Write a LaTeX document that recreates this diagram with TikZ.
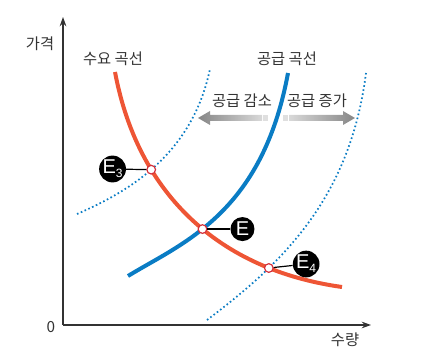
\documentclass[tikz,border=0pt]{standalone}
\usepackage{fontspec}
\setmainfont{Noto Sans CJK KR}
\newfontfamily\eqfont{Liberation Sans}
\usetikzlibrary{arrows.meta,intersections}

\definecolor{demandred}{HTML}{EE5535}
\definecolor{supplyblue}{HTML}{0A7CC4}
\definecolor{txtgray}{HTML}{333333}
\definecolor{markred}{HTML}{D5303A}

\begin{document}
\begin{tikzpicture}[x=0.75pt,y=-0.75pt,
  font=\fontsize{11.5}{13}\selectfont, text=txtgray,
  demand/.style={demandred,line width=3pt},
  supply/.style={supplyblue,line width=3pt},
  shifted/.style={supplyblue,line width=1.3pt,dash pattern=on 1.2pt off 1.9pt},
  eqpt/.style={circle,draw=markred,fill=white,line width=0.9pt,inner sep=0pt,minimum size=6.5pt},
  eqlabel/.style={circle,fill=black,text=white,inner sep=0pt,minimum size=18pt,font=\eqfont\fontsize{15}{15}\selectfont},
  tick/.style={black,line width=0.9pt}]
\useasboundingbox (0,0) rectangle (433,359);
%\draw[help lines] (0,0) grid[step=50] (433,359);
% axes
\draw[-{Stealth[length=7pt,width=5pt]},line width=0.9pt,txtgray] (63,325)--(63,17);
\draw[-{Stealth[length=7pt,width=5pt]},line width=0.9pt,txtgray] (63,325)--(371,325);
\node at (40,44) {가격};
\node at (345,340) {수량};
\node at (51,327) {0};
% shifted supply curves
\draw[shifted,name path=left] (77,214) .. controls (128,192) and (192,155) .. (210,69);
\draw[shifted,name path=right] (207,320) .. controls (280,265) and (350,200) .. (366,73);
% supply and demand
\draw[supply,name path=sup] (128,276) .. controls (182,243) and (262,214) .. (288,73);
\draw[demand,name path=dem] (115,72) .. controls (138,195) and (220,270) .. (342,287);
\node at (113,59) {수요 곡선};
\node at (287,59) {공급 곡선};
% shift arrows
\node at (242,101) {공급 감소};
\node at (317,101) {공급 증가};
\shade[left color=gray!95,right color=gray!30] (198,118)--(210,111)--(210,115)--(262,115)--(262,121)--(210,121)--(210,125)--cycle;
\fill[gray!25] (263,115) rectangle (268,121);
\fill[gray!25] (283,115) rectangle (288,121);
\shade[left color=gray!30,right color=gray!95] (289,115)--(343,115)--(343,111)--(355,118)--(343,125)--(343,121)--(289,121)--cycle;
% equilibrium points
\path[name intersections={of=dem and left,by=x3}];
\path[name intersections={of=dem and sup,by=x0}];
\path[name intersections={of=dem and right,by=x4}];
\node[eqpt] (p3) at (x3) {};
\node[eqpt] (p) at (x0) {};
\node[eqpt] (p4) at (x4) {};
\node[eqlabel] (e3) at ([xshift=-29pt,yshift=0.5pt]p3) {E\raisebox{-3pt}{\fontsize{9}{9}\selectfont 3}};
\node[eqlabel] (e) at ([xshift=30pt]p) {E};
\node[eqlabel] (e4) at ([xshift=28pt,yshift=3pt]p4) {E\raisebox{-3pt}{\fontsize{9}{9}\selectfont 4}};
\draw[tick] (e3) -- (p3);
\draw[tick] (e) -- (p);
\draw[tick] (e4) -- (p4);
\end{tikzpicture}
\end{document}
